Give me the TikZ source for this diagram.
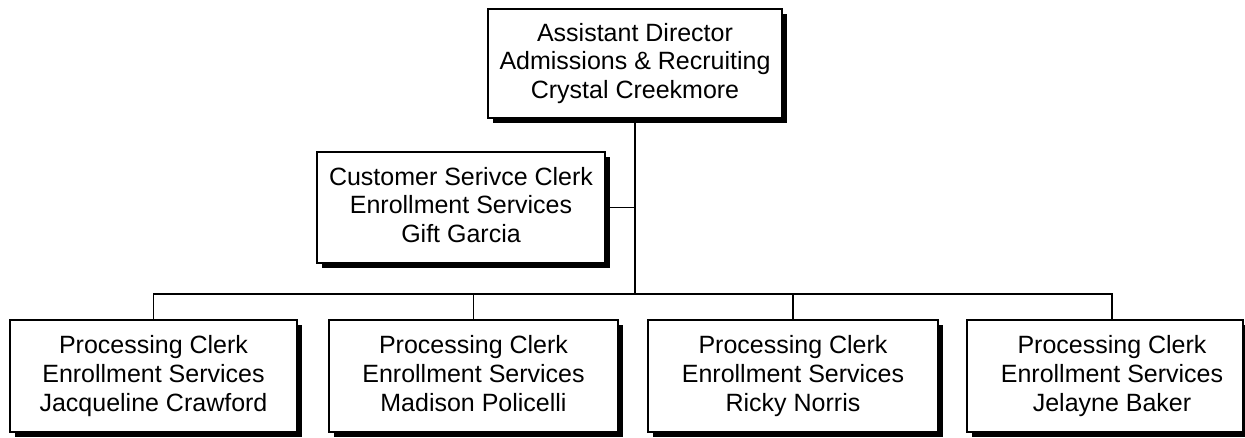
\documentclass[tikz,border=0pt]{standalone}
\usepackage{fontspec}
\setmainfont{Liberation Sans}
\usetikzlibrary{shadows}
\newcommand{\eqln}{\vphantom{Agy}}
\tikzset{
  txt/.style={font=\fontsize{25}{28.6}\selectfont, align=center, inner sep=0pt},
  orgbox/.style={txt, draw=black, line width=1.5pt, fill=white,
    drop shadow={shadow xshift=5pt, shadow yshift=-5pt, fill=black, opacity=1}},
  conn/.style={draw=black, line width=1.5pt}
}
\begin{document}
\begin{tikzpicture}[x=1pt, y=-1pt]
\useasboundingbox (0,0) rectangle (1245,437);
\node[orgbox, minimum width=294pt, minimum height=109pt] (top) at (635,63.5)
  {\eqln Assistant Director\\Admissions \& Recruiting\\Crystal Creekmore\eqln};
\node[orgbox, minimum width=288pt, minimum height=111pt] (cs) at (461,207.5)
  {\eqln Customer Serivce Clerk\\Enrollment Services\\Gift Garcia\eqln};
\node[orgbox, minimum width=287pt, minimum height=112pt] (b1) at (153.5,376)
  {\eqln Processing Clerk\\Enrollment Services\\Jacqueline Crawford\eqln};
\node[orgbox, minimum width=289pt, minimum height=112pt] (b2) at (473.5,376)
  {\eqln Processing Clerk\\Enrollment Services\\Madison Policelli\eqln};
\node[orgbox, minimum width=290pt, minimum height=112pt] (b3) at (793,376)
  {\eqln Processing Clerk\\Enrollment Services\\Ricky Norris\eqln};
\node[orgbox, minimum width=276pt, minimum height=112pt,
  label={[name=b4t, txt, xshift=7pt]center:{\eqln Processing Clerk\\Enrollment Services\\Jelayne Baker\eqln}}] (b4) at (1105,376) {};
\coordinate (bus) at (635,294);
\draw[conn] (top.south) -- (bus);
\draw[conn] (cs.east) -- (cs.east -| top.south);
\draw[conn] (b1.north) |- (b4t |- bus) -- (b4t |- b4.north);
\draw[conn] (b2.north) -- (b2.north |- bus);
\draw[conn] (b3.north) -- (b3.north |- bus);
\end{tikzpicture}
\end{document}
